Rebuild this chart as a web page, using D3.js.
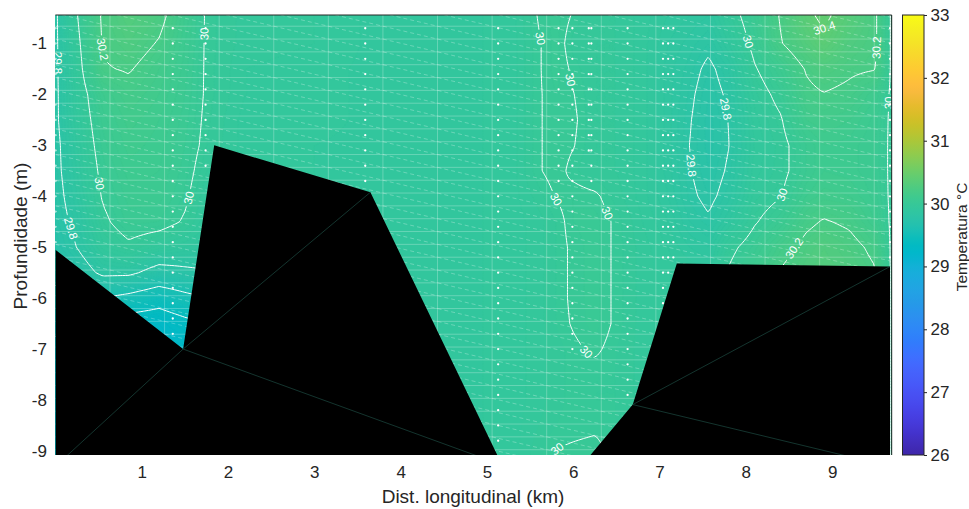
<!DOCTYPE html>
<html><head><meta charset="utf-8">
<script src="https://cdn.jsdelivr.net/npm/d3@7/dist/d3.min.js"></script>
<style>
body{margin:0;background:#fff}
svg text{font-family:"Liberation Sans",Arial,Helvetica,sans-serif;fill:#262626}
</style></head><body>
<svg id="chart" width="969" height="509"></svg>
<script>
// ---------------- DATA ----------------
// grid stations (km) and depths (m) of the temperature field
const gridX = [0,0.25,0.55,0.85,1.2,1.5,1.75,2.2,3.0,3.8,4.6,5.3,5.6,5.8,6.0,6.25,6.5,6.8,7.1,7.35,7.57,7.8,8.1,8.4,8.7,8.9,9.2,9.5,9.69];
const gridDepth = [-0.45,-1.0,-1.5,-2.0,-2.5,-3.0,-3.5,-4.0,-4.5,-5.0,-5.5,-6.0,-6.5,-7.0,-7.5,-8.0,-8.5,-9.08];
// temperature (°C): one profile per gridX entry, values follow gridDepth
const tempByColumn = [
 [29.78,29.78,29.78,29.78,29.78,29.77,29.77,29.76,29.75,29.72,29.65,29.55,29.45,29.35,29.30,29.30,29.30,29.30],
 [29.995,29.97,29.95,29.93,29.92,29.90,29.88,29.86,29.83,29.802,29.72,29.55,29.42,29.32,29.30,29.30,29.30,29.30],
 [30.22,30.21,30.19,30.10,30.07,30.05,30.03,30.01,29.98,29.93,29.83,29.60,29.40,29.30,29.30,29.30,29.30,29.30],
 [30.30,30.26,30.21,30.16,30.13,30.11,30.09,30.07,30.05,29.98,29.83,29.55,29.30,29.25,29.25,29.25,29.25,29.25],
 [30.24,30.19,30.14,30.12,30.10,30.09,30.08,30.07,30.04,29.93,29.74,29.48,29.28,29.24,29.24,29.24,29.24,29.24],
 [30.10,30.08,30.07,30.06,30.05,30.04,30.03,30.015,29.99,29.90,29.77,29.55,29.35,29.24,29.24,29.24,29.24,29.24],
 [29.99,29.99,29.99,29.99,29.985,29.98,29.96,29.94,29.92,29.88,29.79,29.60,29.40,29.25,29.25,29.25,29.25,29.25],
 [29.95,29.95,29.94,29.94,29.93,29.93,29.93,29.92,29.92,29.92,29.92,29.92,29.92,29.92,29.92,29.92,29.92,29.92],
 [29.94,29.94,29.93,29.93,29.93,29.92,29.92,29.92,29.92,29.92,29.92,29.92,29.92,29.92,29.92,29.92,29.92,29.92],
 [29.91,29.91,29.91,29.91,29.91,29.91,29.91,29.91,29.91,29.91,29.91,29.91,29.91,29.91,29.91,29.91,29.91,29.91],
 [29.91,29.91,29.91,29.91,29.91,29.91,29.91,29.91,29.91,29.91,29.91,29.91,29.91,29.91,29.91,29.91,29.91,29.91],
 [29.93,29.93,29.93,29.93,29.93,29.93,29.93,29.93,29.93,29.93,29.93,29.93,29.93,29.93,29.93,29.93,29.93,29.93],
 [30.005,29.995,29.995,29.995,29.995,29.995,29.995,29.97,29.95,29.95,29.95,29.95,29.95,29.95,29.95,29.95,29.96,29.975],
 [30.03,30.03,30.03,30.02,30.02,30.02,30.02,30.003,29.98,29.98,29.98,29.98,29.98,29.97,29.97,29.975,29.98,30.005],
 [29.995,29.97,29.99,30.002,30.01,30.003,29.985,30.02,30.02,30.01,30.01,30.01,30.005,29.99,29.99,29.985,29.985,30.012],
 [29.96,29.96,29.96,29.96,29.96,29.96,29.96,30.01,30.03,30.03,30.03,30.03,30.03,30.01,29.98,29.98,29.99,30.02],
 [29.96,29.96,29.96,29.96,29.96,29.96,29.96,29.97,29.99,29.99,29.99,29.99,29.99,29.98,29.98,29.98,29.98,29.98],
 [29.93,29.93,29.93,29.93,29.93,29.93,29.93,29.93,29.94,29.95,29.95,29.95,29.95,29.95,29.95,29.95,29.95,29.95],
 [29.90,29.88,29.87,29.87,29.87,29.87,29.87,29.88,29.90,29.92,29.93,29.94,29.94,29.94,29.94,29.94,29.94,29.94],
 [29.88,29.85,29.83,29.815,29.805,29.799,29.805,29.815,29.84,29.88,29.92,29.93,29.93,29.93,29.93,29.93,29.93,29.93],
 [29.86,29.82,29.78,29.76,29.75,29.75,29.76,29.78,29.81,29.86,29.90,29.93,29.93,29.93,29.93,29.93,29.93,29.93],
 [29.95,29.90,29.84,29.815,29.802,29.798,29.81,29.83,29.88,29.97,30.01,30.01,30.01,30.01,30.01,30.01,30.01,30.01],
 [30.06,30.03,29.99,29.95,29.93,29.92,29.93,29.95,29.99,30.05,30.10,30.10,30.10,30.10,30.10,30.10,30.10,30.10],
 [30.21,30.19,30.08,30.03,29.99,29.97,29.97,29.995,30.06,30.15,30.21,30.21,30.21,30.21,30.21,30.21,30.21,30.21],
 [30.37,30.30,30.21,30.17,30.12,30.06,30.06,30.10,30.17,30.24,30.28,30.28,30.28,30.28,30.28,30.28,30.28,30.28],
 [30.43,30.37,30.26,30.195,30.14,30.10,30.10,30.13,30.21,30.28,30.30,30.30,30.30,30.30,30.30,30.30,30.30,30.30],
 [30.33,30.27,30.22,30.17,30.12,30.09,30.09,30.12,30.18,30.24,30.27,30.27,30.27,30.27,30.27,30.27,30.27,30.27],
 [30.22,30.22,30.205,30.10,30.07,30.06,30.06,30.07,30.10,30.17,30.21,30.21,30.21,30.21,30.21,30.21,30.21,30.21],
 [29.98,29.98,29.98,29.98,29.98,29.98,29.98,29.98,29.98,29.98,29.98,29.98,29.98,29.98,29.98,29.98,29.98,29.98]
];
// contour levels drawn as white lines
const contourLevels = [29.2,29.4,29.6,29.8,30.0,30.2,30.4];
// inline contour labels: level, distance (km), depth (m)
const labelLevel = [29.8,30.2,30,30,29.8,30,30,30,30,30,30,30,29.8,29.8,30,30,30.4,30.2,30,30.2];
const labelX     = [0.03,0.52,1.73,0.52,0.17,1.53,5.6,5.93,5.77,6.39,6.14,5.82,7.7,7.35,7.97,8.43,8.88,9.51,9.66,8.51];
const labelDepth = [-1.37,-1.13,-0.8,-3.74,-4.63,-4.02,-0.9,-1.72,-4.08,-4.33,-7.06,-9.0,-2.31,-3.4,-1.0,-3.98,-0.9,-1.07,-2.17,-4.96];
// sampling stations (CTD casts) and sample depths
const stationX = [0.0,1.36,1.74,3.59,5.13,5.83,5.99,6.18,6.21,6.63,7.04,7.10,7.16,9.67];
const stationBottom = [-4.9,-6.7,-3.4,-3.7,-8.8,-3.7,-7.0,-3.1,-3.7,-7.9,-6.1,-5.5,-5.2,-5.2];
const sampleDepths = [-0.7,-1.0,-1.3,-1.6,-1.9,-2.2,-2.5,-2.8,-3.1,-3.4,-3.7,-4.0,-4.3,-4.6,-4.9,-5.2,-5.5,-5.8,-6.1,-6.4,-6.7,-7.0,-7.3,-7.6,-7.9,-8.2,-8.5,-8.8];
// bathymetry (bottom profile)
const bottomX = [0,1.48,1.84,3.65,5.12,6.2,6.69,7.2,9.67];
const bottomDepth = [-5.05,-7.0,-3.0,-3.92,-9.08,-9.08,-8.09,-5.32,-5.38];
// bottom mesh edges: pairs of [x, depth]
const bottomEdges = [
  [[0.13,-9.1],[1.48,-7.0]], [[1.48,-7.0],[3.65,-3.92]], [[1.48,-7.0],[4.89,-9.1]],
  [[6.69,-8.09],[9.67,-5.38]], [[6.69,-8.09],[9.17,-9.1]]
];
const xTickValues = [1,2,3,4,5,6,7,8,9];
const yTickValues = [-1,-2,-3,-4,-5,-6,-7,-8,-9];
const cbTickValues = [26,27,28,29,30,31,32,33];

// ---------------- STYLE ----------------
const parula = ["#3e26a8","#402ab4","#422ebf","#4332cb","#4537d5","#463cde","#4741e5","#4747eb","#484df0","#4852f4","#4758f8","#465efa","#4563fc","#4269fe","#3e6fff","#3875fe","#327bfc","#2f81fa","#2e87f7","#2d8cf3","#2b91ef","#2796eb","#259be7","#23a0e5","#20a5e2","#1ca9df","#18addb","#12b1d6","#08b4d0","#01b8ca","#02bac3","#0bbdbc","#19bfb6","#24c1ae","#2cc3a7","#31c69f","#37c897","#3fca8e","#4acb84","#57cc7a","#64cd6f","#72cd64","#81cc59","#8fcb4e","#9dc943","#abc739","#b9c431","#c5c22a","#d1bf27","#dcbd29","#e6bb2d","#efba36","#f8ba3d","#febd3c","#fec338","#fec933","#fccf30","#f9d62d","#f7dc2a","#f5e327","#f5e924","#f5ef20","#f7f51b","#f9fb14"];
const cMin = 26, cMax = 33;
const color = d3.scaleLinear().domain(parula.map((_, i) => cMin + (cMax - cMin) * i / (parula.length - 1))).range(parula).clamp(true);

const svg = d3.select('#chart');
const P = {l: 55.4, r: 891.7, t: 15, b: 455};
const x = d3.scaleLinear().domain([0, 9.69]).range([P.l, P.r]);
const y = d3.scaleLinear().domain([-9.08, -0.44]).range([P.b, P.t]);

const defs = svg.append('defs');
defs.append('clipPath').attr('id', 'plotclip').append('rect')
  .attr('x', P.l).attr('y', P.t).attr('width', P.r - P.l).attr('height', P.b - P.t);

// ---------------- FIELD ----------------
function fieldAt(xv, dv) {
  let i = d3.bisectRight(gridX, xv) - 1;
  i = Math.max(0, Math.min(gridX.length - 2, i));
  let tx = (xv - gridX[i]) / (gridX[i + 1] - gridX[i]);
  tx = Math.max(0, Math.min(1, tx));
  let j = 0;
  while (j < gridDepth.length - 2 && dv < gridDepth[j + 1]) j++;
  let ty = (gridDepth[j] - dv) / (gridDepth[j] - gridDepth[j + 1]);
  ty = Math.max(0, Math.min(1, ty));
  const c = tempByColumn;
  return (1 - tx) * (1 - ty) * c[i][j] + tx * (1 - ty) * c[i + 1][j] + (1 - tx) * ty * c[i][j + 1] + tx * ty * c[i + 1][j + 1];
}
const NX = 324, NY = 288;
const x0 = gridX[0], x1 = gridX[gridX.length - 1];
const d0 = gridDepth[0], d1 = gridDepth[gridDepth.length - 1];
const dxs = (x1 - x0) / (NX - 1), dds = (d0 - d1) / (NY - 1);
const fine = new Float64Array(NX * NY);
for (let j = 0; j < NY; j++) for (let i = 0; i < NX; i++) fine[j * NX + i] = fieldAt(x0 + i * dxs, d0 - j * dds);

const GX = gx => x(x0 + (gx - 0.5) * dxs);
const GY = gy => y(d0 - (gy - 0.5) * dds);
const proj = d3.geoTransform({point: function(px, py) { this.stream.point(GX(px), GY(py)); }});
const gpath = d3.geoPath(proj);

const plotG = svg.append('g').attr('clip-path', 'url(#plotclip)');
const fillThresholds = d3.range(0, 66).map(k => 29.2 + k * 0.02);
const bands = d3.contours().size([NX, NY]).thresholds(fillThresholds)(fine);
plotG.append('g').selectAll('path').data(bands).join('path')
  .attr('d', gpath).attr('fill', d => color(d.value + 0.01)).attr('stroke', d => color(d.value + 0.01)).attr('stroke-width', 0.3);

// mesh (triangulation) overlay
const meshX = d3.range(0, 16).map(k => k * 0.6325);
const meshD = d3.range(0, 36).map(k => -0.408 - k * 0.252);
const meshG = plotG.append('g');
meshG.selectAll('line.v').data(meshX.slice(1)).join('line')
  .attr('x1', d => x(d)).attr('x2', d => x(d)).attr('y1', P.t).attr('y2', P.b)
  .attr('stroke', '#fff').attr('stroke-opacity', 0.26).attr('stroke-width', 1);
meshG.selectAll('line.h').data(meshD).join('line')
  .attr('x1', P.l).attr('x2', P.r).attr('y1', d => y(d)).attr('y2', d => y(d))
  .attr('stroke', '#fff').attr('stroke-opacity', 0.26).attr('stroke-width', 1);
const diag = [];
for (let i = 0; i < meshX.length; i++) for (let j = 0; j < meshD.length - 1; j++) diag.push([meshX[i], meshD[j], meshX[i] + 0.6325, meshD[j + 1]]);
meshG.selectAll('line.d').data(diag).join('line')
  .attr('x1', d => x(d[0])).attr('y1', d => y(d[1])).attr('x2', d => x(d[2])).attr('y2', d => y(d[3]))
  .attr('stroke', '#fff').attr('stroke-opacity', 0.3).attr('stroke-width', 0.9).attr('stroke-dasharray', '4,3');

// ---------------- CONTOUR LINES ----------------
function isolines(level) {
  const c = d3.contours().size([NX, NY]).thresholds([level])(fine)[0];
  const onB = p => (p[0] <= 0 ? 1 : 0) | (p[0] >= NX ? 2 : 0) | (p[1] <= 0 ? 4 : 0) | (p[1] >= NY ? 8 : 0);
  const out = [];
  for (const poly of c.coordinates) for (const ring of poly) {
    const segs = []; let cur = [];
    let firstOpen = false, lastOpen = false, hasBorder = false;
    for (let k = 0; k < ring.length - 1; k++) {
      const a = ring[k], b = ring[k + 1];
      const border = (onB(a) & onB(b)) !== 0;
      if (k === 0) firstOpen = !border;
      if (k === ring.length - 2) lastOpen = !border;
      if (border) { hasBorder = true; if (cur.length > 1) segs.push(cur); cur = []; }
      else { if (cur.length === 0) cur.push(a); cur.push(b); }
    }
    if (cur.length > 1) segs.push(cur);
    if (hasBorder && firstOpen && lastOpen && segs.length > 1) {
      const last = segs.pop(); segs[0] = last.concat(segs[0].slice(1));
    }
    for (const s of segs) out.push(s.map(p => [GX(p[0]), GY(p[1])]));
  }
  return out;
}
const linesByLevel = contourLevels.map(lv => ({level: lv, lines: isolines(lv)}));

const mask = defs.append('mask').attr('id', 'labelgap').attr('maskUnits', 'userSpaceOnUse')
  .attr('x', 0).attr('y', 0).attr('width', 969).attr('height', 509);
mask.append('rect').attr('x', 0).attr('y', 0).attr('width', 969).attr('height', 509).attr('fill', '#fff');

const lineG = plotG.append('g').attr('mask', 'url(#labelgap)');
const lineGen = d3.line();
for (const L of linesByLevel) {
  lineG.selectAll(null).data(L.lines).join('path')
    .attr('d', lineGen).attr('fill', 'none').attr('stroke', '#fff').attr('stroke-width', 1).attr('stroke-linejoin', 'round');
}

// labels
const labG = plotG.append('g');
const fmt = v => (Math.round(v * 10) / 10).toString();
labelLevel.forEach((lv, k) => {
  const L = linesByLevel.find(e => Math.abs(e.level - lv) < 1e-6);
  const tx = x(labelX[k]), ty = y(labelDepth[k]);
  let best = null, bd = Infinity;
  for (const ln of L.lines) for (let i = 0; i < ln.length; i++) {
    const dd = (ln[i][0] - tx) ** 2 + (ln[i][1] - ty) ** 2;
    if (dd < bd) { bd = dd; best = {ln, i}; }
  }
  if (!best) return;
  const ln = best.ln, i = best.i;
  const pt = ln[i];
  const a = ln[Math.max(0, i - 3)], b = ln[Math.min(ln.length - 1, i + 3)];
  let ang = Math.atan2(b[1] - a[1], b[0] - a[0]) * 180 / Math.PI;
  if (ang > 90) ang -= 180; if (ang <= -90) ang += 180;
  const t = labG.append('text').attr('transform', `translate(${pt[0]},${pt[1]}) rotate(${ang})`)
    .attr('text-anchor', 'middle').attr('dy', '0.35em').attr('font-size', 11.5)
    .style('fill', '#fff').text(fmt(lv));
  const w = t.node().getComputedTextLength();
  mask.append('rect').attr('transform', `translate(${pt[0]},${pt[1]}) rotate(${ang})`)
    .attr('x', -w / 2 - 2.5).attr('y', -6).attr('width', w + 5).attr('height', 12).attr('fill', '#000');
});

// sample dots
const dots = [];
stationX.forEach((sx, k) => sampleDepths.forEach(sd => { if (sd >= stationBottom[k] - 1e-9) dots.push([sx, sd]); }));
plotG.append('g').selectAll('circle').data(dots).join('circle')
  .attr('cx', d => x(d[0])).attr('cy', d => y(d[1])).attr('r', 1.15).attr('fill', '#fff');

// bathymetry
const bottomPts = bottomX.map((bx, k) => [bx, bottomDepth[k]]);
const bottomPoly = bottomPts.concat([[bottomX[bottomX.length - 1], -9.6], [bottomX[0], -9.6]]);
plotG.append('path').attr('d', d3.line().x(d => x(d[0])).y(d => y(d[1]))(bottomPoly) + 'Z').attr('fill', '#000');
plotG.append('g').selectAll('line').data(bottomEdges).join('line')
  .attr('x1', d => x(d[0][0])).attr('y1', d => y(d[0][1])).attr('x2', d => x(d[1][0])).attr('y2', d => y(d[1][1]))
  .attr('stroke', '#1f5248').attr('stroke-width', 0.8).attr('stroke-opacity', 0.8);

// box lines (top / right)
svg.append('line').attr('x1', P.l).attr('x2', P.r).attr('y1', P.t).attr('y2', P.t).attr('stroke', '#262626').attr('stroke-width', 1);
svg.append('line').attr('x1', P.r).attr('x2', P.r).attr('y1', P.t).attr('y2', P.b).attr('stroke', '#262626').attr('stroke-width', 1);

// ---------------- AXES ----------------
const ff = '"Liberation Sans",Arial,Helvetica,sans-serif';
const gx = svg.append('g').attr('transform', `translate(0,${P.b})`)
  .call(d3.axisBottom(x).tickValues(xTickValues).tickSize(0).tickPadding(11).tickFormat(d => String(d)));
gx.select('.domain').remove();
gx.selectAll('text').attr('font-size', 17).attr('font-family', ff).style('fill', '#262626');
const gy = svg.append('g').attr('transform', `translate(${P.l},0)`)
  .call(d3.axisLeft(y).tickValues(yTickValues).tickSize(0).tickPadding(8.5).tickFormat(d => String(d)));
gy.select('.domain').remove();
gy.selectAll('text').attr('font-size', 17).attr('font-family', ff).style('fill', '#262626');

svg.append('text').attr('x', 473).attr('y', 503).attr('text-anchor', 'middle').attr('font-size', 19).text('Dist. longitudinal (km)');
svg.append('text').attr('transform', 'translate(27,236) rotate(-90)').attr('text-anchor', 'middle').attr('font-size', 19).text('Profundidade (m)');

// ---------------- COLORBAR ----------------
const CB = {l: 902.5, r: 924, t: 15, b: 455};
const cy = d3.scaleLinear().domain([cMin, cMax]).range([CB.b, CB.t]);
const grad = defs.append('linearGradient').attr('id', 'parulaGrad').attr('x1', 0).attr('y1', 1).attr('x2', 0).attr('y2', 0);
parula.forEach((c, i) => grad.append('stop').attr('offset', i / (parula.length - 1)).attr('stop-color', c));
svg.append('rect').attr('x', CB.l).attr('y', CB.t).attr('width', CB.r - CB.l).attr('height', CB.b - CB.t)
  .attr('fill', 'url(#parulaGrad)').attr('stroke', '#262626').attr('stroke-width', 1);
const gc = svg.append('g').attr('transform', `translate(${CB.r},0)`)
  .call(d3.axisRight(cy).tickValues(cbTickValues).tickSizeInner(3).tickSizeOuter(0).tickPadding(3.5).tickFormat(d => String(d)));
gc.select('.domain').remove();
gc.selectAll('line').attr('stroke', '#262626');
gc.selectAll('text').attr('font-size', 17).attr('font-family', ff).style('fill', '#262626');
svg.append('text').attr('transform', 'translate(967,237) rotate(-90)').attr('text-anchor', 'middle').attr('font-size', 15.5).text('Temperatura °C');
</script>
</body></html>
